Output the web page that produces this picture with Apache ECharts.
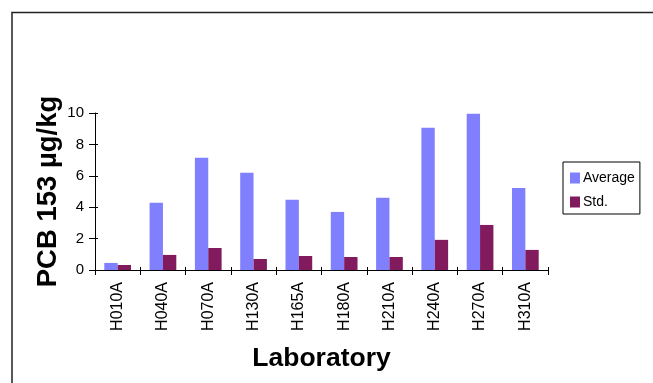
<!DOCTYPE html>
<html>
<head>
<meta charset="utf-8">
<script src="https://cdn.jsdelivr.net/npm/echarts@6/dist/echarts.min.js"></script>
<style>
  html, body { margin: 0; padding: 0; background: #fff; }
  #chart { width: 653px; height: 383px; }
</style>
</head>
<body>
<div id="chart"></div>
<script>
// Laboratory codes along the x axis
const labs = ['H010A', 'H040A', 'H070A', 'H130A', 'H165A', 'H180A', 'H210A', 'H240A', 'H270A', 'H310A'];
// PCB 153 results per laboratory (µg/kg)
const average = [0.45, 4.28, 7.15, 6.19, 4.47, 3.70, 4.60, 9.06, 9.96, 5.23];
const stdDev  = [0.32, 0.96, 1.40, 0.70, 0.89, 0.83, 0.83, 1.92, 2.87, 1.28];
// Value axis ticks
const yTicks = [0, 2, 4, 6, 8, 10];

const FONT = '"Liberation Sans", Arial, sans-serif';
const AVG_COLOR = '#8080ff';
const STD_COLOR = '#821a5e';

const chart = echarts.init(document.getElementById('chart'), null, { renderer: 'canvas' });

const gridBox = { left: 95, right: 105, top: 113, bottom: 113 };

chart.setOption({
  animation: false,
  backgroundColor: '#ffffff',
  grid: [gridBox, gridBox],
  graphic: [
    // frame: top and left edges of the chart area
    {
      type: 'polyline',
      shape: { points: [[12, 400], [12, 12.5], [700, 12.5]] },
      style: { stroke: '#222', lineWidth: 1.5, fill: null },
      z: 10
    }
  ],
  legend: {
    data: ['Average', 'Std.'],
    orient: 'vertical',
    left: 563,
    top: 162,
    itemWidth: 10,
    itemHeight: 11,
    itemGap: 10,
    padding: [9, 5, 5, 7],
    borderColor: '#000',
    borderWidth: 1,
    textStyle: { fontFamily: FONT, fontSize: 14, lineHeight: 11, color: '#000', padding: [0, 0, 0, -2] },
    icon: 'rect'
  },
  xAxis: [
    {
      type: 'category',
      gridIndex: 0,
      data: labs,
      boundaryGap: true,
      axisLine: { lineStyle: { color: '#000', width: 1 } },
      axisTick: { show: true, length: 5, interval: 0, lineStyle: { color: '#000' } },
      axisLabel: {
        interval: 0,
        rotate: 90,
        fontFamily: FONT,
        fontSize: 16,
        color: '#000',
        margin: 12
      },
      name: 'Laboratory',
      nameLocation: 'middle',
      nameGap: 75,
      nameMoveOverlap: false,
      nameTextStyle: { fontFamily: FONT, fontSize: 26.5, fontWeight: 'bold', color: '#000' }
    },
    {
      type: 'category',
      gridIndex: 1,
      data: labs,
      boundaryGap: true,
      axisLine: { show: false },
      axisTick: { show: true, inside: true, length: 3, interval: 0, lineStyle: { color: '#000' } },
      axisLabel: { show: false }
    }
  ],
  yAxis: [
    {
      type: 'value',
      gridIndex: 0,
      min: yTicks[0],
      max: yTicks[yTicks.length - 1],
      interval: yTicks[1] - yTicks[0],
      splitLine: { show: false },
      axisLine: { show: true, lineStyle: { color: '#000', width: 1 } },
      axisTick: { show: true, length: 6, lineStyle: { color: '#000' } },
      axisLabel: { fontFamily: FONT, fontSize: 15, color: '#000', margin: 11 },
      name: 'PCB 153 µg/kg',
      nameLocation: 'middle',
      nameRotate: 90,
      nameGap: 33,
      nameMoveOverlap: false,
      nameTextStyle: { fontFamily: FONT, fontSize: 27.5, fontWeight: 'bold', color: '#000' }
    },
    {
      type: 'value',
      gridIndex: 1,
      min: yTicks[0],
      max: yTicks[yTicks.length - 1],
      interval: yTicks[1] - yTicks[0],
      splitLine: { show: false },
      axisLine: { show: false },
      axisTick: { show: true, inside: true, length: 3, lineStyle: { color: '#000' } },
      axisLabel: { show: false }
    }
  ],
  series: [
    {
      name: 'Average',
      type: 'bar',
      xAxisIndex: 0,
      yAxisIndex: 0,
      data: average,
      barGap: '0%',
      barCategoryGap: '41%',
      itemStyle: { color: AVG_COLOR }
    },
    {
      name: 'Std.',
      type: 'bar',
      xAxisIndex: 0,
      yAxisIndex: 0,
      data: stdDev,
      barGap: '0%',
      barCategoryGap: '41%',
      itemStyle: { color: STD_COLOR }
    }
  ]
});
</script>
</body>
</html>
